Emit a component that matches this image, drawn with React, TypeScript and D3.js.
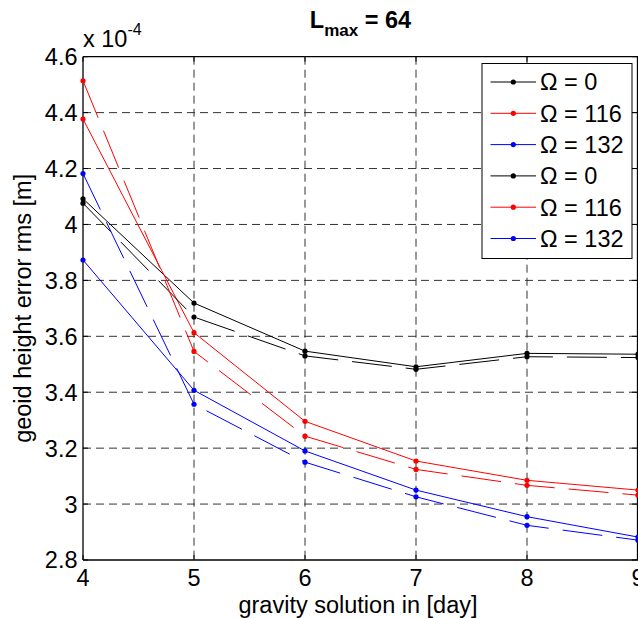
import React from "react";
import * as d3 from "d3";

const days = [4, 5, 6, 7, 8, 9];
const blackSolid = [4.092, 3.719, 3.547, 3.491, 3.539, 3.536];
const blackDashed = [4.076, 3.669, 3.53, 3.482, 3.527, 3.524];
const redSolid = [4.377, 3.613, 3.296, 3.154, 3.085, 3.05];
const redDashed = [4.514, 3.546, 3.243, 3.124, 3.067, 3.032];
const blueSolid = [3.873, 3.407, 3.19, 3.05, 2.955, 2.882];
const blueDashed = [4.182, 3.357, 3.15, 3.026, 2.924, 2.871];

const xTicks = [4, 5, 6, 7, 8, 9];
const yTicks = [2.8, 3, 3.2, 3.4, 3.6, 3.8, 4, 4.2, 4.4, 4.6];
const legendLabels = ["Ω = 0", "Ω = 116", "Ω = 132", "Ω = 0", "Ω = 116", "Ω = 132"];

const W = 638;
const H = 618;
const L = 83;
const R = 638;
const T = 56.7;
const B = 560;

export default function App() {
  const x = d3.scaleLinear().domain([4, 9]).range([L, R]);
  const y = d3.scaleLinear().domain([2.8, 4.6]).range([B, T]);
  const line = d3
    .line<number>()
    .x((_, i) => x(days[i]))
    .y((d) => y(d));

  const series = [
    { vals: blackSolid, color: "#000000", dash: null },
    { vals: redSolid, color: "#ff0000", dash: null },
    { vals: blueSolid, color: "#0000ff", dash: null },
    { vals: blackDashed, color: "#000000", dash: "40,14" },
    { vals: redDashed, color: "#ff0000", dash: "40,14" },
    { vals: blueDashed, color: "#0000ff", dash: "40,14" },
  ];

  const font = "'Liberation Sans', Arial, sans-serif";
  const fs = 23.5;
  const legX = 482;
  const legY = 63.5;
  const legW = 150;
  const legH = 195;
  const rowStep = 31.3;

  return (
    <svg
      width={W}
      height={H}
      style={{ position: "absolute", left: 0, top: 0, background: "#fff" }}
      fontFamily={font}
    >
      <rect x={0} y={0} width={W} height={H} fill="#fff" />
      {/* grid */}
      {xTicks.slice(1, -1).map((t) => (
        <line
          key={"gx" + t}
          x1={x(t)}
          x2={x(t)}
          y1={T}
          y2={B}
          stroke="#333"
          strokeWidth={1}
          strokeDasharray="8,5"
        />
      ))}
      {yTicks.slice(1, -1).map((t) => (
        <line
          key={"gy" + t}
          x1={L}
          x2={R}
          y1={y(t)}
          y2={y(t)}
          stroke="#333"
          strokeWidth={1}
          strokeDasharray="8,5"
        />
      ))}
      {/* ticks */}
      {xTicks.map((t) => (
        <g key={"tx" + t}>
          <line x1={x(t)} x2={x(t)} y1={B} y2={B - 5} stroke="#000" />
          <line x1={x(t)} x2={x(t)} y1={T} y2={T + 5} stroke="#000" />
        </g>
      ))}
      {yTicks.map((t) => (
        <g key={"ty" + t}>
          <line x1={L} x2={L + 5} y1={y(t)} y2={y(t)} stroke="#000" />
          <line x1={R - 1} x2={R - 6} y1={y(t)} y2={y(t)} stroke="#000" />
        </g>
      ))}
      {/* axes box */}
      <line x1={L} x2={L} y1={T} y2={B} stroke="#000" strokeWidth={1.3} />
      <line x1={L} x2={R} y1={B} y2={B} stroke="#000" strokeWidth={1.3} />
      <line x1={L} x2={R} y1={T} y2={T} stroke="#000" strokeWidth={1.3} />
      <line x1={R - 0.5} x2={R - 0.5} y1={T} y2={B} stroke="#000" strokeWidth={1.3} />
      {/* series */}
      {series.map((s, k) => (
        <g key={"s" + k}>
          <path
            d={line(s.vals) || ""}
            fill="none"
            stroke={s.color}
            strokeWidth={1}
            strokeDasharray={s.dash || undefined}
          />
          {s.vals.map((v, i) => (
            <circle key={i} cx={x(days[i])} cy={y(v)} r={2.6} fill={s.color} />
          ))}
        </g>
      ))}
      {/* tick labels */}
      {xTicks.map((t) => (
        <text key={"lx" + t} x={x(t)} y={586} textAnchor="middle" fontSize={fs} fill="#000">
          {t}
        </text>
      ))}
      {yTicks.map((t) => (
        <text
          key={"ly" + t}
          x={77.5}
          y={y(t)}
          dy="0.36em"
          textAnchor="end"
          fontSize={fs}
          fill="#000"
        >
          {d3.format("~g")(t)}
        </text>
      ))}
      {/* exponent */}
      <text x={83} y={46.7} fontSize={fs} fill="#000">
        x 10
        <tspan dy={-12} fontSize={16}>
          -4
        </tspan>
      </text>
      {/* title */}
      <text x={360.5} y={28} textAnchor="middle" fontSize={fs} fontWeight="bold" fill="#000">
        L
        <tspan dy={8} fontSize={17}>
          max
        </tspan>
        <tspan dy={-8}> = 64</tspan>
      </text>
      {/* axis labels */}
      <text x={358} y={613} textAnchor="middle" fontSize={fs} fill="#000">
        gravity solution in [day]
      </text>
      <text
        transform={`translate(31,${(T + B) / 2}) rotate(-90)`}
        textAnchor="middle"
        fontSize={fs}
        fill="#000"
      >
        geoid height error rms [m]
      </text>
      {/* legend */}
      <rect x={legX} y={legY} width={legW} height={legH} fill="#fff" stroke="#000" strokeWidth={1} />
      {series.map((s, k) => {
        const cy = legY + 18.5 + k * rowStep;
        return (
          <g key={"leg" + k}>
            <line x1={490.5} x2={536} y1={cy} y2={cy} stroke={s.color} strokeWidth={1} />
            <circle cx={513.3} cy={cy} r={2.6} fill={s.color} />
            <text x={540} y={cy} dy="0.36em" fontSize={fs} fill="#000">
              {legendLabels[k]}
            </text>
          </g>
        );
      })}
    </svg>
  );
}
